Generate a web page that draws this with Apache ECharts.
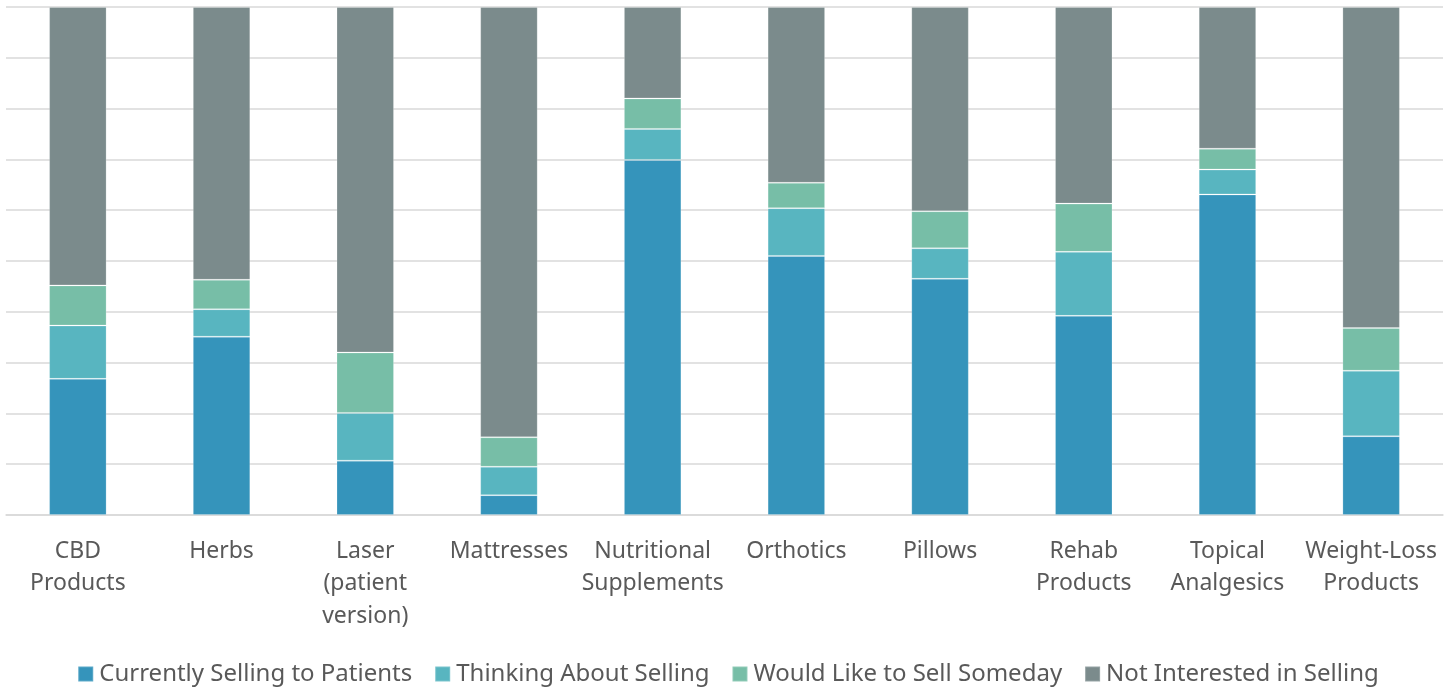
<!DOCTYPE html>
<html>
<head>
<meta charset="utf-8">
<style>
  html, body { margin: 0; padding: 0; background: #fff; }
  #chart { width: 1456px; height: 689px; }
</style>
<script src="https://cdn.jsdelivr.net/npm/echarts@6/dist/echarts.min.js"></script>
</head>
<body>
<div id="chart"></div>
<script>
// categories (line breaks as in the picture)
const categories = [
  'CBD\nProducts', 'Herbs', 'Laser\n(patient\nversion)', 'Mattresses',
  'Nutritional\nSupplements', 'Orthotics', 'Pillows', 'Rehab\nProducts',
  'Topical\nAnalgesics', 'Weight-Loss\nProducts'
]

// percentages
const currentlySelling = [26.8, 35.1, 10.7, 3.9, 69.9, 51.0, 46.5, 39.2, 63.1, 15.5]
const thinkingAbout    = [10.5, 5.4, 9.4, 5.6, 6.1, 9.4, 6.0, 12.6, 4.9, 12.9]
const wouldLikeTo      = [7.9, 5.8, 11.9, 5.8, 6.0, 5.0, 7.3, 9.5, 4.1, 8.4]
const notInterested    = [54.8, 53.7, 68.0, 84.7, 18.0, 34.6, 40.2, 38.7, 27.9, 63.2]

const seriesNames = [
  'Currently Selling to Patients', 'Thinking About Selling',
  'Would Like to Sell Someday', 'Not Interested in Selling'
]
const colors = ['#3594BB', '#58B5C0', '#77BEA7', '#7B8B8C']
const seriesData = [currentlySelling, thinkingAbout, wouldLikeTo, notInterested]

const chart = echarts.init(document.getElementById('chart'))

const font = '"Noto Sans", "Open Sans", sans-serif'

const option = {
  animation: false,
  textStyle: { fontFamily: font },
  grid: { left: 6, right: 13, top: 7, bottom: 174, containLabel: false },
  legend: {
    top: 657,
    left: 'center',
    itemWidth: 15,
    itemHeight: 15,
    itemGap: 22,
    icon: 'rect',
    textStyle: { color: '#595959', fontSize: 24, fontFamily: font, padding: [0, 0, 0, 1] },
    data: seriesNames
  },
  xAxis: {
    type: 'category',
    data: categories,
    axisLine: { lineStyle: { color: '#D9D9D9', width: 1.5 } },
    axisTick: { show: false },
    axisLabel: {
      color: '#595959',
      fontSize: 23,
      fontFamily: font,
      lineHeight: 32.5,
      margin: 20,
      interval: 0
    }
  },
  yAxis: {
    type: 'value',
    min: 0,
    max: 100,
    interval: 10,
    axisLabel: { show: false },
    axisLine: { show: false },
    axisTick: { show: false },
    splitLine: { lineStyle: { color: '#D9D9D9', width: 1.5 } }
  },
  series: seriesNames.map((name, i) => ({
    name: name,
    type: 'bar',
    stack: 'total',
    barWidth: '40%',
    itemStyle: {
      color: colors[i],
      borderColor: 'rgba(255,255,255,0.2)',
      borderWidth: 1
    },
    data: seriesData[i]
  }))
}

chart.setOption(option)
</script>
</body>
</html>
